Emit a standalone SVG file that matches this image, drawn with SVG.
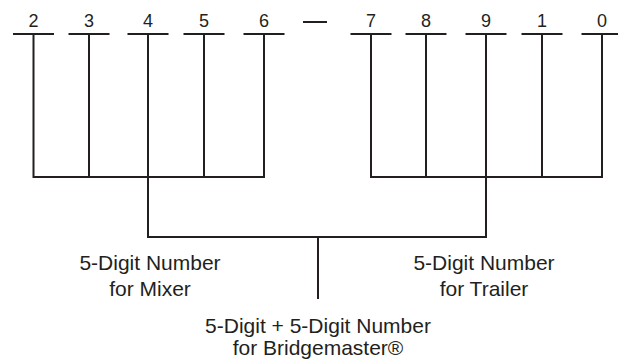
<svg xmlns="http://www.w3.org/2000/svg" width="618" height="360" viewBox="0 0 618 360">
<style>
.ln{stroke:#231f20;stroke-width:2;fill:none;stroke-linecap:butt}
.dg{font-family:"Liberation Sans",Arial,sans-serif;font-size:18px;fill:#231f20;text-anchor:middle}
.lb{font-family:"Liberation Sans",Arial,sans-serif;font-size:21px;fill:#231f20;text-anchor:middle}
</style>
<rect width="618" height="360" fill="#ffffff"/>
<g id="d2"><text class="dg" x="33.5" y="27">2</text><line class="ln" x1="13" y1="34" x2="54" y2="34"/></g>
<g id="d3"><text class="dg" x="89" y="27">3</text><line class="ln" x1="68.5" y1="34" x2="109.5" y2="34"/></g>
<g id="d4"><text class="dg" x="148" y="27">4</text><line class="ln" x1="127.5" y1="34" x2="168.5" y2="34"/></g>
<g id="d5"><text class="dg" x="204" y="27">5</text><line class="ln" x1="183.5" y1="34" x2="224.5" y2="34"/></g>
<g id="d6"><text class="dg" x="264" y="27">6</text><line class="ln" x1="243.5" y1="34" x2="284.5" y2="34"/></g>
<g id="dash"><line class="ln" x1="303" y1="22" x2="327" y2="22"/></g>
<g id="d7"><text class="dg" x="371" y="27">7</text><line class="ln" x1="350.5" y1="34" x2="391.5" y2="34"/></g>
<g id="d8"><text class="dg" x="426" y="27">8</text><line class="ln" x1="405.5" y1="34" x2="446.5" y2="34"/></g>
<g id="d9"><text class="dg" x="486" y="27">9</text><line class="ln" x1="465.5" y1="34" x2="506.5" y2="34"/></g>
<g id="d1"><text class="dg" x="542" y="27">1</text><line class="ln" x1="521.5" y1="34" x2="562.5" y2="34"/></g>
<g id="d0"><text class="dg" x="602" y="27">0</text><line class="ln" x1="581.5" y1="34" x2="622.5" y2="34"/></g>
<g id="connectors">
<path class="ln" d="M33.5 34V177M89 34V177M148 34V177M204 34V177M264 34V177M32.5 177H265"/>
<path class="ln" d="M371 34V177M426 34V177M486 34V177M542 34V177M602 34V177M370 177H603"/>
<path class="ln" d="M148 177V237H486V177M318 237V299"/>
</g>
<g id="mixer"><text class="lb" x="150" y="270">5-Digit Number</text><text class="lb" x="150" y="296">for Mixer</text></g>
<g id="trailer"><text class="lb" x="484" y="270">5-Digit Number</text><text class="lb" x="484" y="296">for Trailer</text></g>
<g id="bridgemaster"><text class="lb" x="318" y="333">5-Digit + 5-Digit Number</text><text class="lb" x="318" y="355">for Bridgemaster®</text></g>
</svg>
